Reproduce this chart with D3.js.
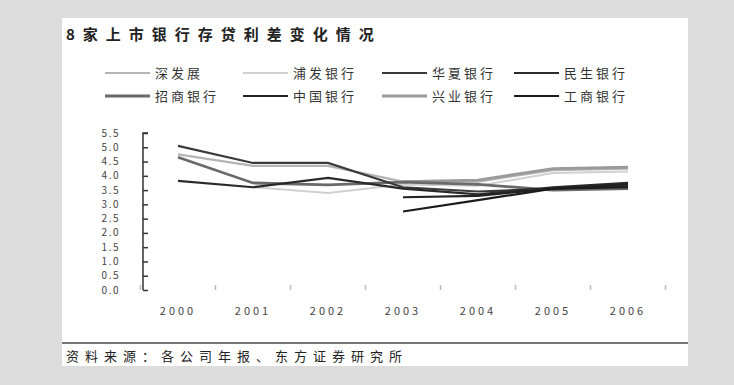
<!DOCTYPE html>
<html>
<head>
<meta charset="utf-8">
<script src="https://cdn.jsdelivr.net/npm/d3@7"></script>
<style>
  body { margin: 0; background: #dcdcdc; }
  svg { display: block; font-family: "Noto Sans CJK SC", "DejaVu Sans", sans-serif; }
</style>
</head>
<body>
<svg width="734" height="385"></svg>
<script>
var years = ["2000", "2001", "2002", "2003", "2004", "2005", "2006"];
var yTicks = [0, 0.5, 1, 1.5, 2, 2.5, 3, 3.5, 4, 4.5, 5, 5.5];
var banks = ["深发展", "浦发银行", "华夏银行", "民生银行", "招商银行", "中国银行", "兴业银行", "工商银行"];
var sdb  = [4.75, 4.35, 4.35, 3.8, 3.8, 4.2, 4.25];
var spdb = [null, 3.6, 3.4, 3.7, 3.65, 4.1, 4.15];
var hxb  = [5.05, 4.45, 4.45, 3.6, 3.45, 3.55, 3.65];
var cmbc = [3.82, 3.6, 3.93, 3.55, 3.35, 3.6, 3.75];
var cmb  = [4.65, 3.75, 3.68, 3.78, 3.7, 3.5, 3.55];
var boc  = [null, null, null, 3.25, 3.3, 3.55, 3.7];
var cib  = [null, null, null, 3.8, 3.85, 4.25, 4.3];
var icbc = [null, null, null, 2.75, 3.15, 3.55, 3.6];
var seriesValues = [sdb, spdb, hxb, cmbc, cmb, boc, cib, icbc];
var colors = ["#b4b4b4", "#d0d0d0", "#3a3a3a", "#2a2a2a", "#6a6a6a", "#222222", "#9a9a9a", "#1c1c1c"];
var widths = [2.2, 2, 2.2, 2.2, 2.8, 2.2, 2.8, 2.2];

var svg = d3.select("svg");

// white panel
svg.append("rect").attr("x", 62).attr("y", 18).attr("width", 626).attr("height", 348).attr("fill", "#fff");
svg.append("line").attr("x1", 62).attr("x2", 688).attr("y1", 343).attr("y2", 343)
    .attr("stroke", "#777").attr("stroke-width", 2);

svg.append("text").attr("x", 66).attr("y", 40).attr("font-size", 15).attr("fill", "#222")
    .attr("letter-spacing", 8).attr("font-weight", "bold")
    .text("8家上市银行存贷利差变化情况");

svg.append("text").attr("x", 66).attr("y", 361).attr("font-size", 13).attr("fill", "#222")
    .attr("letter-spacing", 6)
    .text("资料来源：各公司年报、东方证券研究所");

// legend
var legX = [105, 243, 382, 514];
banks.forEach(function (b, i) {
    var lx = legX[i % 4], ly = i < 4 ? 73 : 96;
    svg.append("line").attr("x1", lx).attr("x2", lx + 45).attr("y1", ly).attr("y2", ly)
        .attr("stroke", colors[i]).attr("stroke-width", widths[i]);
    svg.append("text").attr("x", lx + 50).attr("y", ly + 5).attr("font-size", 13).attr("fill", "#333")
        .attr("letter-spacing", 3)
        .text(b);
});

var x = d3.scalePoint().domain(years).range([178, 628]);
var y = d3.scaleLinear().domain([0, 5.5]).range([290, 133]);

// y axis
var yAxis = d3.axisRight(y).tickValues(yTicks).tickSize(5).tickFormat("");
var gy = svg.append("g").attr("transform", "translate(143,0)").call(yAxis);
gy.selectAll("path,line").attr("stroke", "#333").attr("stroke-width", 1.5);
gy.select(".domain").attr("d", "M5,133H0V290");
svg.append("g").selectAll("text").data(yTicks).enter().append("text")
    .attr("x", 120).attr("y", function (d) { return y(d) + 3.5; })
    .attr("text-anchor", "end").attr("font-size", 10).attr("fill", "#444")
    .attr("letter-spacing", 1.5)
    .text(function (d) { return d.toFixed(1); });

// x labels and boundary ticks
svg.append("g").selectAll("text").data(years).enter().append("text")
    .attr("x", function (d) { return x(d); }).attr("y", 315)
    .attr("text-anchor", "middle").attr("font-size", 11).attr("fill", "#444")
    .attr("letter-spacing", 3)
    .text(function (d) { return d; });
var step = x.step();
svg.append("g").selectAll("line").data(d3.range(8)).enter().append("line")
    .attr("x1", function (i) { return 178 - step / 2 + i * step; })
    .attr("x2", function (i) { return 178 - step / 2 + i * step; })
    .attr("y1", 285).attr("y2", 290)
    .attr("stroke", "#bbb").attr("stroke-width", 1.5);

// lines
var line = d3.line()
    .defined(function (d) { return d != null; })
    .x(function (d, i) { return x(years[i]); })
    .y(function (d) { return y(d); });
var order = [1, 0, 6, 4, 2, 3, 5, 7];
order.forEach(function (i) {
    svg.append("path").datum(seriesValues[i]).attr("d", line)
        .attr("fill", "none").attr("stroke", colors[i]).attr("stroke-width", widths[i]);
});
</script>
</body>
</html>
